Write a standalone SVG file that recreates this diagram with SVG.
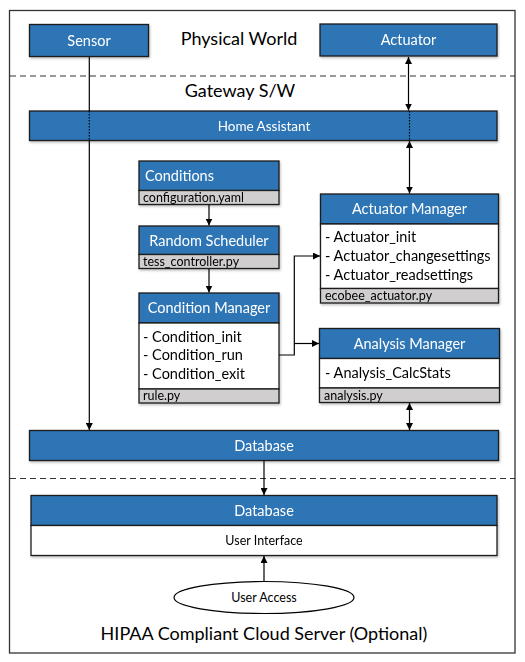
<svg xmlns="http://www.w3.org/2000/svg" width="525" height="662" viewBox="0 0 525 662">
<defs>
<marker id="ah" viewBox="0 0 10 10" refX="10" refY="5" markerWidth="7" markerHeight="7" orient="auto-start-reverse" markerUnits="userSpaceOnUse">
<path d="M0,0 L10,5 L0,10 z" fill="#000"/>
</marker>
<filter id="sh" x="-5%" y="-20%" width="110%" height="150%">
<feDropShadow dx="1" dy="1.5" stdDeviation="1" flood-color="#000" flood-opacity="0.25"/>
</filter>
</defs>
<style>
text{font-family:Lato,"Liberation Sans",sans-serif}
.hdr{fill:#2E75B6;stroke:#1a1a1a;stroke-width:1.3}
.wht{fill:#fff;stroke:#1a1a1a;stroke-width:1.3}
.gry{fill:#D0CECE;stroke:#1a1a1a;stroke-width:1.3}
.ht{fill:#fff;font-size:14.5px}
.ct{fill:#fff;font-size:14.5px;text-anchor:middle}
.lt{fill:#000;font-size:14.5px}
.ft{fill:#000;font-size:12.5px}
.big{fill:#000;font-size:18px;text-anchor:middle}
.line{stroke:#000;stroke-width:1.2;fill:none}
.dash{stroke:#333;stroke-width:1.2;stroke-dasharray:6,4;fill:none}
.dot{stroke:#000;stroke-width:1.2;stroke-dasharray:1.5,1.5;fill:none}
</style>
<rect x="9.5" y="10.5" width="505.5" height="642.5" fill="#fff" stroke="#333" stroke-width="1.3"/>
<line class="dash" x1="10" y1="76" x2="515" y2="76"/>
<line class="dash" x1="10" y1="478.5" x2="515" y2="478.5"/>
<text class="big" x="239" y="45">Physical World</text>
<text class="big" x="240" y="97">Gateway S/W</text>
<text class="big" x="264" y="640">HIPAA Compliant Cloud Server (Optional)</text>

<g id="sensor" filter="url(#sh)">
<rect class="hdr" x="29.5" y="24.5" width="119" height="32"/>
<text class="ct" x="89" y="45.5">Sensor</text>
</g>
<g id="actuator" filter="url(#sh)">
<rect class="hdr" x="320" y="24" width="177" height="32"/>
<text class="ct" x="408.5" y="45">Actuator</text>
</g>
<g id="home-assistant" filter="url(#sh)">
<rect class="hdr" x="29.5" y="111" width="467.5" height="29.5"/>
<text class="ct" x="264" y="130.5" style="font-size:13.5px">Home Assistant</text>
</g>
<g id="conditions" filter="url(#sh)">
<rect class="hdr" x="139" y="161" width="140" height="29.5"/>
<rect class="gry" x="139" y="190.5" width="140" height="14"/>
<text class="ht" x="145" y="181">Conditions</text>
<text class="ft" x="143" y="201.5">configuration.yaml</text>
</g>
<g id="random-scheduler" filter="url(#sh)">
<rect class="hdr" x="139" y="226" width="140" height="28.5"/>
<rect class="gry" x="139" y="254.5" width="140" height="14"/>
<text class="ct" x="209" y="245.5">Random Scheduler</text>
<text class="ft" x="143" y="265.5">tess_controller.py</text>
</g>
<g id="condition-manager" filter="url(#sh)">
<rect class="hdr" x="139" y="293" width="140" height="30"/>
<rect class="wht" x="139" y="323" width="140" height="66"/>
<rect class="gry" x="139" y="389" width="140" height="14"/>
<text class="ct" x="209" y="313">Condition Manager</text>
<text class="lt" x="143" y="342">- Condition_init</text>
<text class="lt" x="143" y="360">- Condition_run</text>
<text class="lt" x="143" y="379">- Condition_exit</text>
<text class="ft" x="143" y="400">rule.py</text>
</g>
<g id="actuator-manager" filter="url(#sh)">
<rect class="hdr" x="320.5" y="194" width="178" height="30"/>
<rect class="wht" x="320.5" y="224" width="178" height="64.5"/>
<rect class="gry" x="320.5" y="288.5" width="178" height="14.5"/>
<text class="ct" x="409.5" y="214">Actuator Manager</text>
<text class="lt" x="325" y="242">- Actuator_init</text>
<text class="lt" x="325" y="261">- Actuator_changesettings</text>
<text class="lt" x="325" y="280">- Actuator_readsettings</text>
<text class="ft" x="325" y="300">ecobee_actuator.py</text>
</g>
<g id="analysis-manager" filter="url(#sh)">
<rect class="hdr" x="319.5" y="328.5" width="180" height="30"/>
<rect class="wht" x="319.5" y="358.5" width="180" height="29.5"/>
<rect class="gry" x="319.5" y="388" width="180" height="14.5"/>
<text class="ct" x="409.5" y="349">Analysis Manager</text>
<text class="lt" x="325" y="378">- Analysis_CalcStats</text>
<text class="ft" x="324" y="399.5">analysis.py</text>
</g>
<g id="database-gateway" filter="url(#sh)">
<rect class="hdr" x="29.5" y="430.5" width="469" height="30"/>
<text class="ct" x="264" y="450.5">Database</text>
</g>
<g id="database-cloud" filter="url(#sh)">
<rect class="hdr" x="31" y="495.5" width="466" height="30"/>
<rect class="wht" x="31" y="525.5" width="466" height="30"/>
<text class="ct" x="264" y="516">Database</text>
<text x="264" y="545" style="font-size:12.5px;text-anchor:middle;fill:#000">User Interface</text>
</g>
<g id="user-access">
<ellipse cx="264" cy="597.5" rx="90" ry="16" fill="#fff" stroke="#000" stroke-width="1.2"/>
<text x="264" y="602" style="font-size:12.5px;text-anchor:middle;fill:#000">User Access</text>
</g>

<g id="connectors">
<line class="line" x1="89.3" y1="57" x2="89.3" y2="111"/>
<line class="dot" x1="89.3" y1="111" x2="89.3" y2="140.5"/>
<line class="line" x1="89.3" y1="140.5" x2="89.3" y2="430" marker-end="url(#ah)"/>
<line class="line" x1="408.5" y1="57" x2="408.5" y2="110.5" marker-start="url(#ah)" marker-end="url(#ah)"/>
<line class="dot" x1="409.5" y1="111" x2="409.5" y2="140.5"/>
<line class="line" x1="409.5" y1="141" x2="409.5" y2="193.5" marker-start="url(#ah)" marker-end="url(#ah)"/>
<line class="line" x1="209" y1="205" x2="209" y2="225.5" marker-end="url(#ah)"/>
<line class="line" x1="209" y1="269" x2="209" y2="292.5" marker-end="url(#ah)"/>
<polyline class="line" points="279,355 294.3,355 294.3,256 320,256" marker-end="url(#ah)"/>
<line class="line" x1="294.3" y1="343.5" x2="319" y2="343.5" marker-end="url(#ah)"/>
<line class="line" x1="409.5" y1="403" x2="409.5" y2="430" marker-start="url(#ah)" marker-end="url(#ah)"/>
<line class="line" x1="264" y1="461" x2="264" y2="495" marker-end="url(#ah)"/>
<line class="line" x1="264" y1="581.5" x2="264" y2="556" marker-end="url(#ah)"/>
</g>
</svg>
